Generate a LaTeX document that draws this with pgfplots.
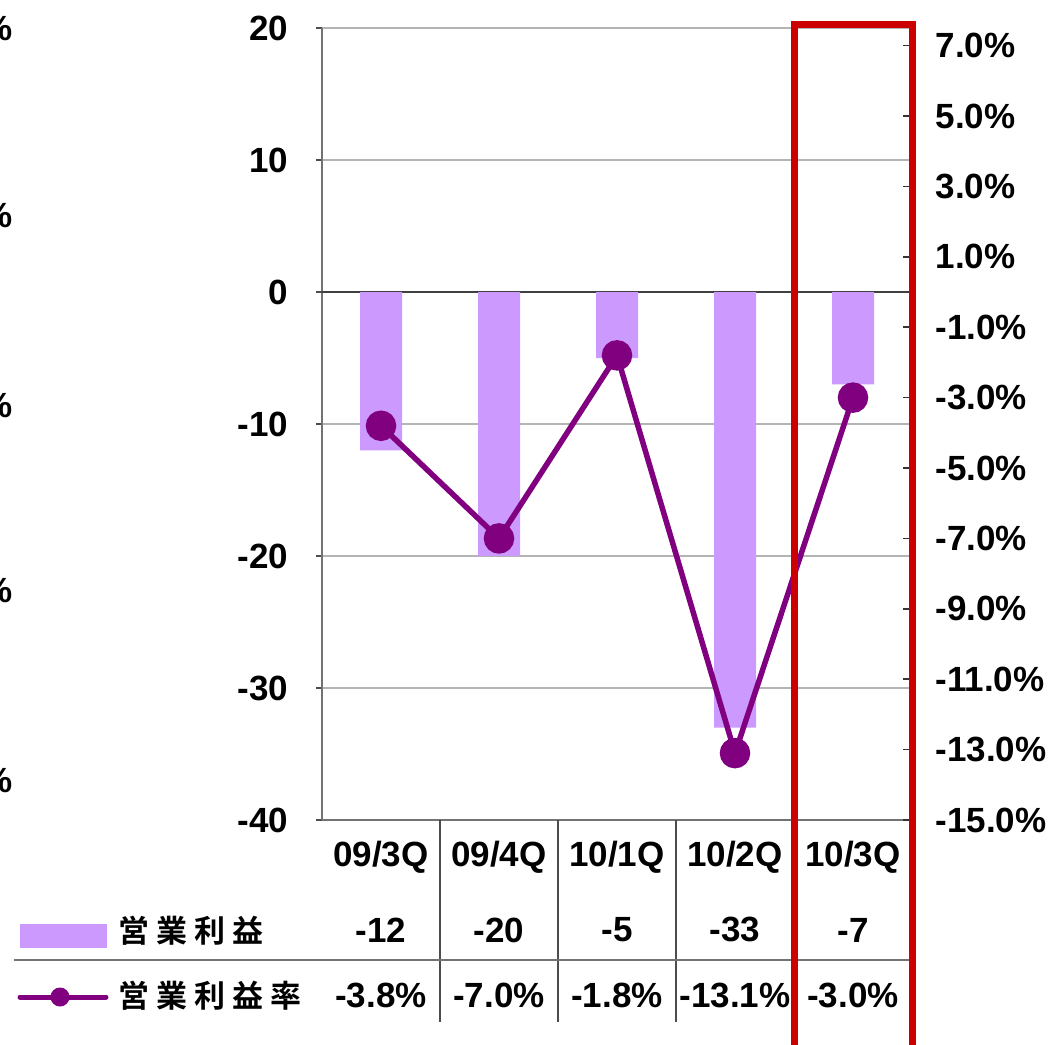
\documentclass[border=0pt]{standalone}
\usepackage{pgfplots}
\pgfplotsset{compat=1.18}
\usepackage{fontspec}
\setmainfont{Liberation Sans}
\newfontfamily\cjk{Noto Sans CJK JP}[BoldFont={Noto Sans CJK JP Bold}]
\definecolor{barc}{HTML}{CC99FF}
\definecolor{linec}{HTML}{800080}
\definecolor{boxred}{HTML}{CC0000}
\definecolor{gridc}{HTML}{B4B4B4}
\newcommand\bigb{\fontsize{35}{40}\selectfont\bfseries}
\newcommand\jp[1]{{\cjk\fontsize{31}{36}\selectfont\bfseries #1}}

\begin{document}
\begin{tikzpicture}
\clip (0,0) rectangle (1052pt,-1044pt);
% labels of the chart next to this one, cut off
\foreach \yy in {28,215,405,590,780}
  \node[anchor=east, inner sep=0pt, font=\bigb] at (13pt,-\yy pt) {\%};

% left axis: 営業利益
\begin{axis}[
  at={(322pt,-820pt)}, anchor=south west,
  scale only axis, width=590pt, height=792pt,
  xmin=-0.5, xmax=4.5, ymin=-40, ymax=20,
  axis x line*=bottom, axis y line*=left,
  axis line style={black!55, line width=2pt},
  xtick=\empty,
  ytick={-40,-30,...,20},
  ymajorgrids, grid style={gridc, line width=1.5pt},
  extra y ticks={0}, extra y tick labels={},
  extra y tick style={grid style={black!75, line width=2pt}},
  tick align=outside, major tick length=6pt,
  tick style={black!70, line width=1.5pt},
  /pgf/number format/assume math mode=true,
  yticklabel style={font=\bigb, xshift=-24pt},
  clip=false,
]
\addplot[ybar, bar width=42pt, fill=barc, draw=none]
  coordinates {(0,-12) (1,-20) (2,-5) (3,-33) (4,-7)};

% data table below the chart
\node[font=\bigb] at (axis cs:0,-42.8) {09/3Q};
\node[font=\bigb] at (axis cs:1,-42.8) {09/4Q};
\node[font=\bigb] at (axis cs:2,-42.8) {10/1Q};
\node[font=\bigb] at (axis cs:3,-42.8) {10/2Q};
\node[font=\bigb] at (axis cs:4,-42.8) {10/3Q};
\node[font=\bigb] at (axis cs:0,-48.33) {-12};
\node[font=\bigb] at (axis cs:1,-48.33) {-20};
\node[font=\bigb] at (axis cs:2,-48.33) {-5};
\node[font=\bigb] at (axis cs:3,-48.33) {-33};
\node[font=\bigb] at (axis cs:4,-48.33) {-7};
\node[font=\bigb] at (axis cs:0,-53.26) {-3.8\%};
\node[font=\bigb] at (axis cs:1,-53.26) {-7.0\%};
\node[font=\bigb] at (axis cs:2,-53.26) {-1.8\%};
\node[font=\bigb] at (axis cs:3,-53.26) {-13.1\%};
\node[font=\bigb] at (axis cs:4,-53.26) {-3.0\%};
\draw[black!70, line width=1.5pt] (axis cs:0.5,-40) -- (axis cs:0.5,-55.3);
\draw[black!70, line width=1.5pt] (axis cs:1.5,-40) -- (axis cs:1.5,-55.3);
\draw[black!70, line width=1.5pt] (axis cs:2.5,-40) -- (axis cs:2.5,-55.3);
\draw[black!70, line width=1.5pt] (axis cs:3.5,-40) -- (axis cs:3.5,-55.3);
\draw[black!55, line width=1.5pt] (axis cs:-3.11,-50.61) -- (axis cs:4.48,-50.61);
\end{axis}

% legend of the table
\fill[barc] (20pt,-924pt) rectangle (107pt,-948pt);
\node[anchor=west, inner sep=0pt] at (118pt,-931pt)
  {\jp{営\hspace{7pt}業\hspace{7pt}利\hspace{7pt}益}};
\draw[linec, line width=5pt, line cap=round] (20pt,-997pt) -- (106pt,-997pt);
\fill[linec] (60pt,-997pt) circle (9.5pt);
\node[anchor=west, inner sep=0pt] at (118pt,-996pt)
  {\jp{営\hspace{7pt}業\hspace{7pt}利\hspace{7pt}益\hspace{7pt}率}};

% right axis: 営業利益率
\begin{axis}[
  at={(322pt,-820pt)}, anchor=south west,
  scale only axis, width=590pt, height=792pt,
  xmin=-0.5, xmax=4.5, ymin=-15, ymax=7.5,
  axis x line=none, axis y line*=right,
  axis line style={black, line width=2pt},
  ytick={-15,-13,...,7},
  tick align=inside, major tick length=9pt,
  tick style={black!80, line width=1.5pt},
  /pgf/number format/assume math mode=true,
  yticklabel={\pgfmathprintnumber[fixed,fixed zerofill,precision=1]{\tick}\%},
  yticklabel style={font=\bigb, xshift=20pt},
  clip=false,
]
\addplot[linec, line width=5.5pt, mark=*, mark size=12.5pt,
  mark options={fill=linec, draw=none}]
  coordinates {(0,-3.8) (1,-7.0) (2,-1.8) (3,-13.1) (4,-3.0)};
\draw[boxred, line width=7pt] (axis cs:3.5,-22) -- (axis cs:3.5,7.61)
  -- (axis cs:4.5,7.61) -- (axis cs:4.5,-22);
\end{axis}
\end{tikzpicture}
\end{document}
